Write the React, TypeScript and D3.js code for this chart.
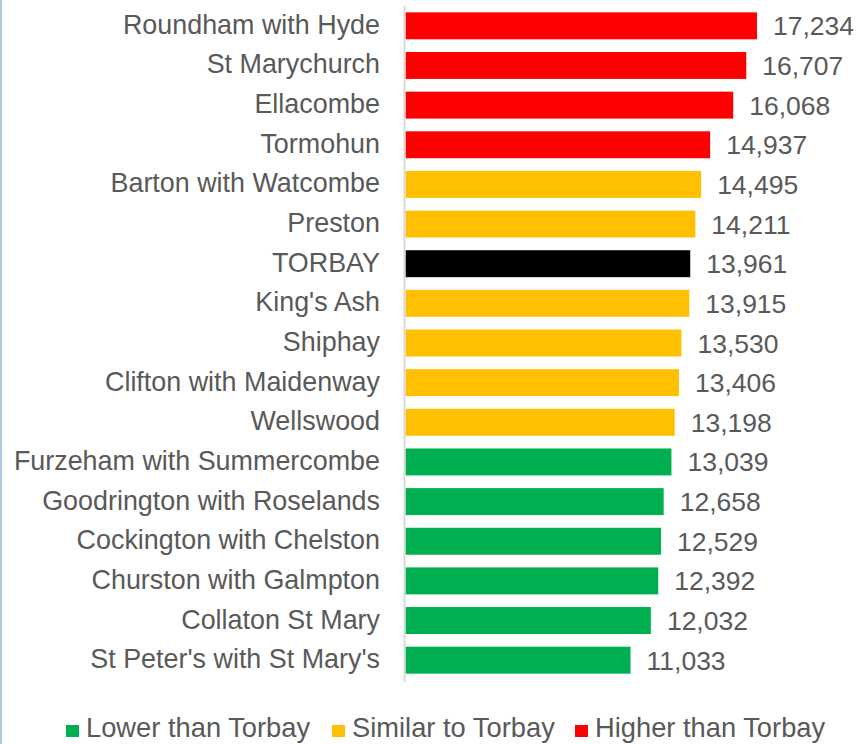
import React from "react";
import * as d3 from "d3";

const categories = [
  "Roundham with Hyde",
  "St Marychurch",
  "Ellacombe",
  "Tormohun",
  "Barton with Watcombe",
  "Preston",
  "TORBAY",
  "King's Ash",
  "Shiphay",
  "Clifton with Maidenway",
  "Wellswood",
  "Furzeham with Summercombe",
  "Goodrington with Roselands",
  "Cockington with Chelston",
  "Churston with Galmpton",
  "Collaton St Mary",
  "St Peter's with St Mary's",
];
const values = [17234, 16707, 16068, 14937, 14495, 14211, 13961, 13915, 13530, 13406, 13198, 13039, 12658, 12529, 12392, 12032, 11033];
const groups = ["high", "high", "high", "high", "similar", "similar", "torbay", "similar", "similar", "similar", "similar", "low", "low", "low", "low", "low", "low"];
const legendKeys = ["low", "similar", "high"];
const legendLabels = ["Lower than Torbay", "Similar to Torbay", "Higher than Torbay"];

const colors: Record<string, string> = {
  high: "#ff0000",
  similar: "#ffc000",
  low: "#00b050",
  torbay: "#000000",
};

const W = 859;
const H = 744;
const FONT = "'Liberation Sans', Arial, sans-serif";
const TEXT = "#595959";

export default function App() {
  const x = d3.scaleLinear().domain([0, 17234]).range([405.5, 757]);
  const y = d3
    .scaleBand<string>()
    .domain(categories)
    .range([6, 680])
    .paddingInner(0.32)
    .paddingOuter(0.16);
  const fmt = d3.format(",");
  const legendX = [66, 332, 575];

  return (
    <svg
      width={W}
      height={H}
      style={{ position: "absolute", left: 0, top: 0, background: "#fff" }}
      fontFamily={FONT}
    >
      <rect x={0} y={0} width={W} height={H} fill="#fff" />
      <line x1={1} x2={1} y1={0} y2={H} stroke="#b4c7e7" strokeWidth={2} />
      {categories.map((c, i) => {
        const yy = y(c)!;
        const bw = y.bandwidth();
        const cy = yy + bw / 2;
        return (
          <g key={c}>
            <rect x={x(0)} y={yy} width={x(values[i]) - x(0)} height={bw} fill={colors[groups[i]]} />
            <text x={380} y={cy + 8} textAnchor="end" fontSize={26.9} fill={TEXT}>
              {c}
            </text>
            <text x={x(values[i]) + 16} y={cy + 9.5} fontSize={26.5} fill={TEXT}>
              {fmt(values[i])}
            </text>
          </g>
        );
      })}
      <line x1={404.5} x2={404.5} y1={6} y2={682} stroke="#d9d9d9" strokeWidth={2} />
      {legendKeys.map((k, i) => (
        <g key={k}>
          <rect x={legendX[i]} y={725} width={13} height={12} fill={colors[k]} />
          <text x={legendX[i] + 20} y={737} fontSize={27.3} fill={TEXT}>
            {legendLabels[i]}
          </text>
        </g>
      ))}
    </svg>
  );
}
